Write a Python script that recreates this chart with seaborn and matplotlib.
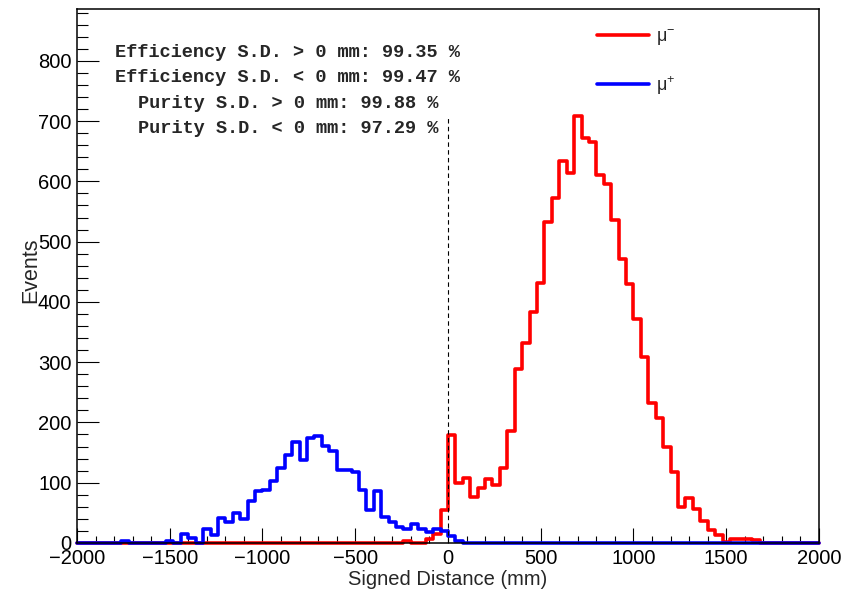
import numpy as np
import matplotlib
matplotlib.use("Agg")
import matplotlib.pyplot as plt
from matplotlib.ticker import MultipleLocator
import seaborn as sns

# binning: 100 bins of 40 mm between -2000 and 2000 mm
bin_lo = -2000
bin_hi = 2000
bin_width = 40

# mu- events per bin
mu_minus = [
    0, 0, 0, 0, 0, 0, 0, 0, 0, 0,
    0, 0, 0, 0, 0, 0, 0, 0, 0, 0,
    0, 0, 0, 0, 0, 0, 0, 0, 0, 0,
    0, 0, 0, 0, 0, 0, 0, 0, 0, 0,
    0, 0, 0, 0, 3, 0, 0, 6, 15, 55,
    179, 99, 107, 76, 92, 106, 97, 124, 186, 288,
    331, 384, 431, 532, 572, 633, 614, 709, 672, 666,
    611, 595, 536, 471, 430, 371, 309, 233, 207, 160,
    117, 60, 74, 56, 37, 22, 14, 2, 7, 7,
    6, 5, 0, 0, 0, 0, 0, 0, 0, 0,
]

# mu+ events per bin
mu_plus = [
    0, 0, 0, 0, 0, 0, 3, 0, 0, 0,
    0, 0, 3, 0, 15, 8, 0, 23, 13, 41,
    34, 49, 40, 69, 86, 88, 103, 124, 146, 168,
    137, 174, 178, 161, 153, 121, 121, 117, 88, 55,
    87, 43, 34, 27, 24, 32, 24, 18, 23, 20,
    12, 4, 0, 0, 0, 0, 0, 0, 0, 0,
    0, 0, 0, 0, 0, 0, 0, 0, 0, 0,
    0, 0, 0, 0, 0, 0, 0, 0, 0, 0,
    0, 0, 0, 0, 0, 0, 0, 0, 0, 0,
    0, 0, 0, 0, 0, 0, 0, 0, 0, 0,
]

series_labels = [r"$\mu^{-}$", r"$\mu^{+}$"]
stats_lines = [
    "Efficiency S.D. > 0 mm: 99.35 %",
    "Efficiency S.D. < 0 mm: 99.47 %",
    "Purity S.D. > 0 mm: 99.88 %",
    "Purity S.D. < 0 mm: 97.29 %",
]
y_max = 886

sns.set_style("ticks")
plt.rcParams["font.family"] = ["Liberation Sans", "DejaVu Sans"]
plt.rcParams["mathtext.default"] = "regular"

centers = np.arange(bin_lo, bin_hi, bin_width) + bin_width / 2

fig = plt.figure(figsize=(8.6, 5.9), dpi=100)
ax = fig.add_axes([0.0895, 0.0797, 0.8628, 0.905])

sns.histplot(x=centers, weights=mu_minus, binwidth=bin_width, binrange=(bin_lo, bin_hi),
             element="step", fill=False, color="#ff0000", linewidth=2.6,
             label=series_labels[0], ax=ax)
sns.histplot(x=centers, weights=mu_plus, binwidth=bin_width, binrange=(bin_lo, bin_hi),
             element="step", fill=False, color="#0000ff", linewidth=2.6,
             label=series_labels[1], ax=ax)
for ln in ax.lines:
    ln.set_clip_on(False)

# separation line at zero
ax.vlines(0, 0, max(mu_minus), colors="black", linestyles=(0, (4, 3)), linewidth=0.8)

ax.set_xlim(bin_lo, bin_hi)
ax.set_ylim(0, y_max)
ax.xaxis.set_major_locator(MultipleLocator(500))
ax.xaxis.set_minor_locator(MultipleLocator(100))
ax.yaxis.set_major_locator(MultipleLocator(100))
ax.yaxis.set_minor_locator(MultipleLocator(20))
ax.tick_params(axis="both", which="both", direction="in", width=0.8, labelsize=14.5, colors="black")
ax.tick_params(axis="x", which="major", length=10.8, pad=4)
ax.tick_params(axis="x", which="minor", length=5)
ax.tick_params(axis="y", which="major", length=15.8, pad=4)
ax.tick_params(axis="y", which="minor", length=7.9)
for sp in ax.spines.values():
    sp.set_linewidth(1.1)
    sp.set_color("black")

ax.set_xlabel("Signed Distance (mm)", fontsize=14.5)
ax.set_ylabel("Events", fontsize=15.5)
ax.xaxis.set_label_coords(0.5, -0.05)
ax.yaxis.set_label_coords(-0.048, 0.51)

for i, line in enumerate(stats_lines):
    ax.text(0.284, 0.9195 - i * 0.048, line, transform=ax.transAxes, ha="center", va="center",
            family="Liberation Mono", fontweight="bold", fontsize=13.4)

ax.legend(loc="upper left", bbox_to_anchor=(0.701, 0.965), frameon=False, fontsize=13,
          handlelength=2.9, labelspacing=1.45, handletextpad=0.35, borderpad=0, borderaxespad=0)

fig.savefig("out.png", dpi=100)
